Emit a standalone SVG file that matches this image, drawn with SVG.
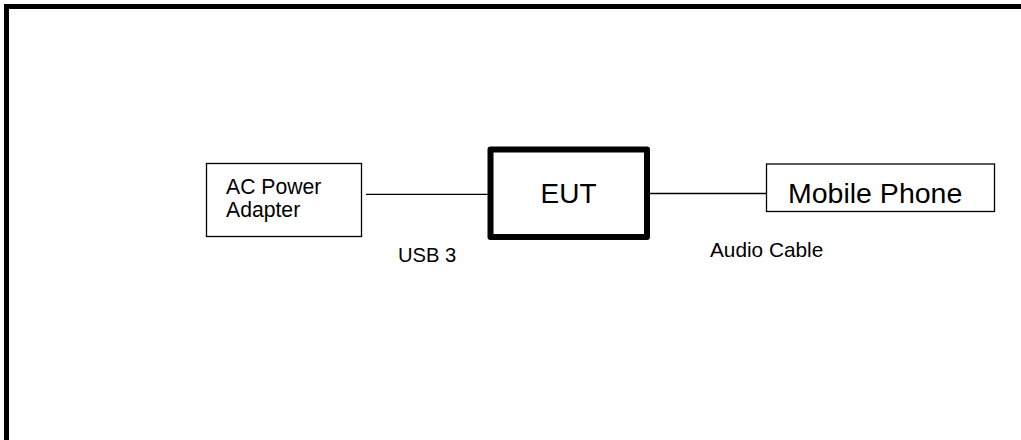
<svg xmlns="http://www.w3.org/2000/svg" width="1021" height="440" viewBox="0 0 1021 440">
<style>
text{font-family:"Liberation Sans",Arial,sans-serif;fill:#000}
.box{fill:#fff;stroke:#000;stroke-width:1.3}
.wire{stroke:#000;stroke-width:1.3;fill:none}
</style>
<rect width="1021" height="440" fill="#fff"/>
<rect x="6.5" y="6.5" width="1040" height="460" fill="none" stroke="#000" stroke-width="5"/>
<g id="connectors">
<line class="wire" x1="366" y1="194.3" x2="490" y2="194.3"/>
<line class="wire" x1="647" y1="193.5" x2="767" y2="193.5"/>
<text x="398" y="261.7" font-size="20.2">USB 3</text>
<text x="710" y="256.7" font-size="20.8">Audio Cable</text>
</g>
<g id="ac-adapter">
<rect class="box" x="206.5" y="163.5" width="155" height="73"/>
<text x="226" y="194.3" font-size="21.2">AC Power</text>
<text x="226" y="217.3" font-size="21.2">Adapter</text>
</g>
<g id="eut">
<rect x="490.5" y="149.5" width="156.5" height="87.5" fill="#fff" stroke="#000" stroke-width="6" stroke-linejoin="round"/>
<text x="568.5" y="203.3" font-size="28" text-anchor="middle">EUT</text>
</g>
<g id="mobile-phone">
<rect class="box" x="766.5" y="164" width="228" height="47.5"/>
<text x="788" y="203.3" font-size="28.5">Mobile Phone</text>
</g>
</svg>
